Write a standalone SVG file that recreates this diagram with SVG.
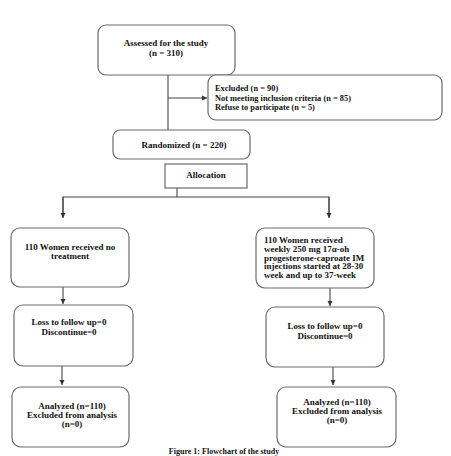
<svg xmlns="http://www.w3.org/2000/svg" width="451" height="456" viewBox="0 0 451 456">
<defs>
<style>
.box{fill:#fff;stroke:#6b6b6b;stroke-width:1.2}
.t{font-family:"Liberation Serif","Times New Roman",serif;font-weight:bold;font-size:9px;fill:#111}
.s{font-size:8.4px}
.c{text-anchor:middle}
.ln{fill:none;stroke:#444;stroke-width:1.1}
</style>
<marker id="ah" markerWidth="6" markerHeight="6" refX="5" refY="3" orient="auto" markerUnits="userSpaceOnUse">
<path d="M0,0.5 L5,3 L0,5.5 Z" fill="#333"/>
</marker>
</defs>
<rect width="451" height="456" fill="#fff"/>
<g id="connectors">
<path class="ln" d="M168,75 V130"/>
<path class="ln" d="M168,98 H207" marker-end="url(#ah)"/>
<path class="ln" d="M177,188 V197"/>
<path class="ln" d="M63,217 V197 H329 V217"/>
<path class="ln" d="M63,197 V218" marker-end="url(#ah)"/>
<path class="ln" d="M329,197 V218" marker-end="url(#ah)"/>
<path class="ln" d="M63,287 V304" marker-end="url(#ah)"/>
<path class="ln" d="M330,288 V306" marker-end="url(#ah)"/>
<path class="ln" d="M62,366 V385" marker-end="url(#ah)"/>
<path class="ln" d="M333,367 V385" marker-end="url(#ah)"/>
</g>
<g id="assessed">
<rect class="box" x="98" y="25" width="137" height="50" rx="8"/>
<text class="t c" x="166" y="46">Assessed for the study</text>
<text class="t c" x="166" y="56">(n = 310)</text>
</g>
<g id="excluded">
<rect class="box" x="208" y="75" width="234" height="45" rx="8"/>
<text class="t s" x="215" y="91">Excluded (n = 90)</text>
<text class="t s" x="215" y="100.5">Not meeting inclusion criteria (n = 85)</text>
<text class="t s" x="215" y="110">Refuse to participate (n = 5)</text>
</g>
<g id="randomized">
<rect class="box" x="113" y="130" width="137" height="29" rx="7"/>
<text class="t c" x="184" y="148">Randomized (n = 220)</text>
</g>
<g id="allocation">
<rect class="box" x="165" y="164" width="82" height="24"/>
<text class="t c" x="206" y="178">Allocation</text>
</g>
<g id="left-treatment">
<rect class="box" x="11" y="228" width="118" height="59" rx="9"/>
<text class="t c" x="70" y="250">110 Women received no</text>
<text class="t c" x="70" y="259">treatment</text>
</g>
<g id="right-treatment">
<rect class="box" x="256" y="228" width="118" height="60" rx="9"/>
<text class="t" x="264" y="243">110 Women received</text>
<text class="t" x="264" y="251.5">weekly 250 mg 17α-oh</text>
<text class="t" x="264" y="260.5">progesterone-caproate IM</text>
<text class="t" x="264" y="269">injections started at 28-30</text>
<text class="t" x="264" y="278">week and up to 37-week</text>
</g>
<g id="left-followup">
<rect class="box" x="14" y="305" width="119" height="61" rx="9"/>
<text class="t c" x="69" y="325">Loss to follow up=0</text>
<text class="t c" x="69" y="335">Discontinue=0</text>
</g>
<g id="right-followup">
<rect class="box" x="266" y="307" width="118" height="60" rx="9"/>
<text class="t c" x="325" y="329">Loss to follow up=0</text>
<text class="t c" x="325" y="339">Discontinue=0</text>
</g>
<g id="left-analyzed">
<rect class="box" x="12" y="387" width="117" height="60" rx="9"/>
<text class="t c" x="72" y="409">Analyzed (n=110)</text>
<text class="t c" x="72" y="418">Excluded from analysis</text>
<text class="t c" x="72" y="427">(n=0)</text>
</g>
<g id="right-analyzed">
<rect class="box" x="277" y="387" width="119" height="60" rx="9"/>
<text class="t c" x="337" y="405">Analyzed (n=110)</text>
<text class="t c" x="337" y="414">Excluded from analysis</text>
<text class="t c" x="337" y="423">(n=0)</text>
</g>
<text class="t c" x="224" y="454" style="font-size:8px">Figure 1: Flowchart of the study</text>
</svg>
